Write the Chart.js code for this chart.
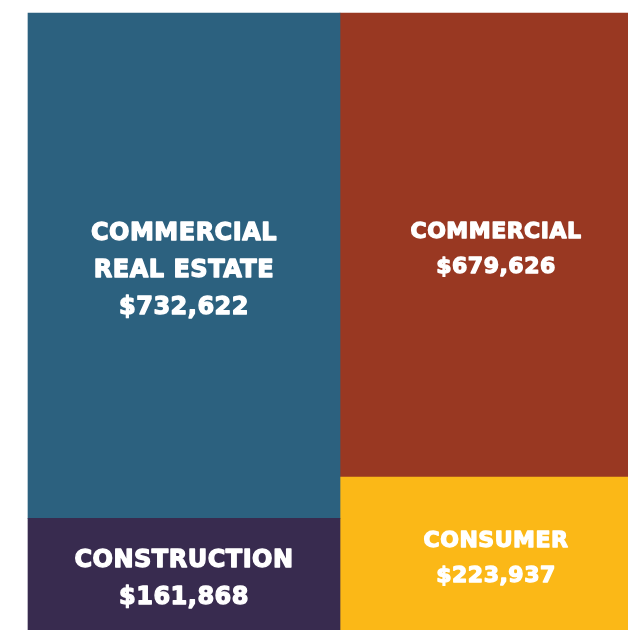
<!DOCTYPE html>
<html>
<head>
<meta charset="utf-8">
<script src="https://cdn.jsdelivr.net/npm/chart.js@4/dist/chart.umd.min.js"></script>
<style>
  html, body { margin: 0; padding: 0; background: #fff; overflow: hidden; }
  #wrap { position: absolute; left: 0; top: 0; width: 634px; height: 630px; }
</style>
</head>
<body>
<div id="wrap"><canvas id="tree"></canvas></div>
<script>
// two columns of the treemap, each stacked from the bottom
const columns = ["left", "right"];
const sectorNames = [
  ["CONSTRUCTION"],
  ["COMMERCIAL", "REAL ESTATE"],
  ["CONSUMER"],
  ["COMMERCIAL"]
];
const sectorColumn = [0, 0, 1, 1];
const sectorValues = [161868, 732622, 223937, 679626];
const sectorColors = ["#382b4f", "#2c617f", "#fbb817", "#993822"];
const columnWidths = [312, 288];

// label look per column (right column text is a bit smaller and shifted right)
const labelSize = [24, 22];
const labelLine = [37, 35];
const labelShift = [0, 12];

const colTotals = columns.map((c, i) =>
  sectorValues.reduce((s, v, k) => s + (sectorColumn[k] === i ? v : 0), 0));

const datasets = sectorValues.map((v, k) => ({
  label: sectorNames[k].join(" "),
  data: columns.map((c, i) => (sectorColumn[k] === i ? v : null)),
  backgroundColor: sectorColors[k],
  borderWidth: 0,
  barThickness: columnWidths[sectorColumn[k]],
  yAxisID: sectorColumn[k] === 0 ? "yL" : "yR",
  clip: false
}));

const labelPlugin = {
  id: "tileLabels",
  afterDatasetsDraw(chart) {
    const c = chart.ctx;
    c.save();
    c.fillStyle = "#ffffff";
    c.strokeStyle = "#ffffff";
    c.lineWidth = 1.3;
    c.lineJoin = "round";
    c.textAlign = "center";
    c.textBaseline = "middle";
    chart.data.datasets.forEach((ds, k) => {
      const meta = chart.getDatasetMeta(k);
      meta.data.forEach((bar, i) => {
        if (ds.data[i] == null) return;
        c.font = "bold " + labelSize[i] + "px 'DejaVu Sans', sans-serif";
        c.letterSpacing = "0.5px";
        const lines = sectorNames[k].concat(["$" + ds.data[i].toLocaleString("en-US")]);
        const lh = labelLine[i];
        const cy = (bar.y + bar.base) / 2 + 5;
        const top = cy - (lines.length - 1) * lh / 2;
        lines.forEach((t, j) => {
          c.fillText(t, bar.x + labelShift[i], top + j * lh);
          c.strokeText(t, bar.x + labelShift[i], top + j * lh);
        });
      });
    });
    c.restore();
  }
};

new Chart(document.getElementById("tree"), {
  type: "bar",
  data: { labels: columns, datasets },
  options: {
    responsive: true,
    maintainAspectRatio: false,
    animation: false,
    layout: { padding: { left: 34, top: 13, right: 0, bottom: 0 } },
    plugins: { legend: { display: false }, tooltip: { enabled: false } },
    scales: {
      x: { stacked: true, display: false, grid: { display: false } },
      yL: { stacked: true, display: false, min: 0, max: colTotals[0] },
      yR: { stacked: true, display: false, min: 0, max: colTotals[1] }
    }
  },
  plugins: [labelPlugin]
});
</script>
</body>
</html>
